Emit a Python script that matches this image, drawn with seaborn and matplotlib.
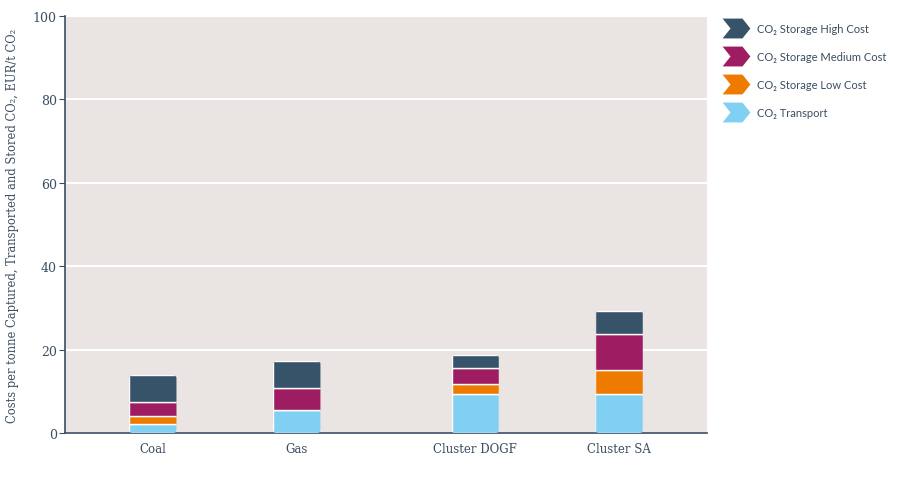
import numpy as np
import pandas as pd
import seaborn as sns
import matplotlib.pyplot as plt
from matplotlib.path import Path
from matplotlib.lines import Line2D
from matplotlib.patches import FancyBboxPatch

sites = ['Coal', 'Gas', 'Cluster DOGF', 'Cluster SA']
site_pos = [0, 1, 2.24, 3.24]

transport = [2.2, 5.5, 9.4, 9.4]
low_cost = [1.9, 0.0, 2.4, 5.7]
medium_cost = [3.3, 5.3, 3.8, 8.6]
high_cost = [6.5, 6.5, 3.1, 5.6]

series = ['CO₂ Transport', 'CO₂ Storage Low Cost',
          'CO₂ Storage Medium Cost', 'CO₂ Storage High Cost']
colors = ['#82CFF4', '#EE7A00', '#9E1C62', '#37536A']

txt = '#3B4E63'
sns.set_style('white', {'axes.facecolor': '#EAE5E2', 'axes.edgecolor': txt})

fig = plt.figure(figsize=(9, 4.89), dpi=100)
ax = fig.add_axes([0.0722, 0.1125, 0.7134, 0.8527])

df = pd.DataFrame({'site': sites, 'pos': site_pos, 'transport': transport,
                   'low': low_cost, 'medium': medium_cost, 'high': high_cost})

bar_w = 0.33
bottom = np.zeros(len(sites))
for col, c in zip(['transport', 'low', 'medium', 'high'], colors):
    sns.barplot(data=df, x='pos', y=col, native_scale=True, width=bar_w,
                color=c, bottom=bottom, edgecolor='white', linewidth=1,
                saturation=1, ax=ax, zorder=3)
    bottom = bottom + df[col].values

ax.set_ylim(0, 100)
ax.set_xlim(-0.61, 3.85)

# rounded corners: clip each stacked column to a rounded box
clips = []
for p, tot in zip(site_pos, bottom):
    box = FancyBboxPatch((p - bar_w / 2, 0), bar_w, tot,
                         boxstyle='round,pad=0,rounding_size=0.025',
                         mutation_aspect=34, transform=ax.transData)
    clips.append(box)
for cont in ax.containers:
    for i, bar in enumerate(cont.patches):
        bar.set_clip_path(clips[i])

ax.set_yticks([0, 20, 40, 60, 80, 100])
ax.set_xticks(site_pos)
ax.set_xticklabels(sites)
ax.yaxis.grid(True, color='white', linewidth=1.5, zorder=0)
ax.set_axisbelow(True)
ax.tick_params(axis='y', left=True, length=4, color=txt, labelcolor=txt,
               labelsize=9, pad=2)
ax.tick_params(axis='x', bottom=False, labelcolor=txt, labelsize=8.5, pad=3)
for lbl in ax.get_xticklabels() + ax.get_yticklabels():
    lbl.set_family('DejaVu Serif')
ax.set_xlabel('')
ax.set_ylabel('Costs per tonne Captured, Transported and Stored CO₂, EUR/t CO₂',
              family='DejaVu Serif', fontsize=8.3, color=txt, labelpad=10)
for s in ['top', 'right']:
    ax.spines[s].set_visible(False)
ax.spines['left'].set_linewidth(1.2)
ax.spines['bottom'].set_linewidth(1.2)

# chevron marker for the legend
chevron = Path([(-0.7, -0.5), (0.3, -0.5), (0.7, 0), (0.3, 0.5),
                (-0.7, 0.5), (-0.3, 0), (-0.7, -0.5)])
handles = [Line2D([], [], marker=chevron, linestyle='none', markersize=20,
                  markerfacecolor=c, markeredgewidth=0)
           for c in colors[::-1]]
leg = fig.legend(handles, series[::-1], loc='upper left',
                 bbox_to_anchor=(0.793, 0.972), frameon=False,
                 labelspacing=1.55, handletextpad=0.8, handlelength=2.2,
                 prop={'family': ['Lato', 'DejaVu Sans'], 'size': 8})
for t in leg.get_texts():
    t.set_color(txt)

fig.savefig('out.png', dpi=100)
